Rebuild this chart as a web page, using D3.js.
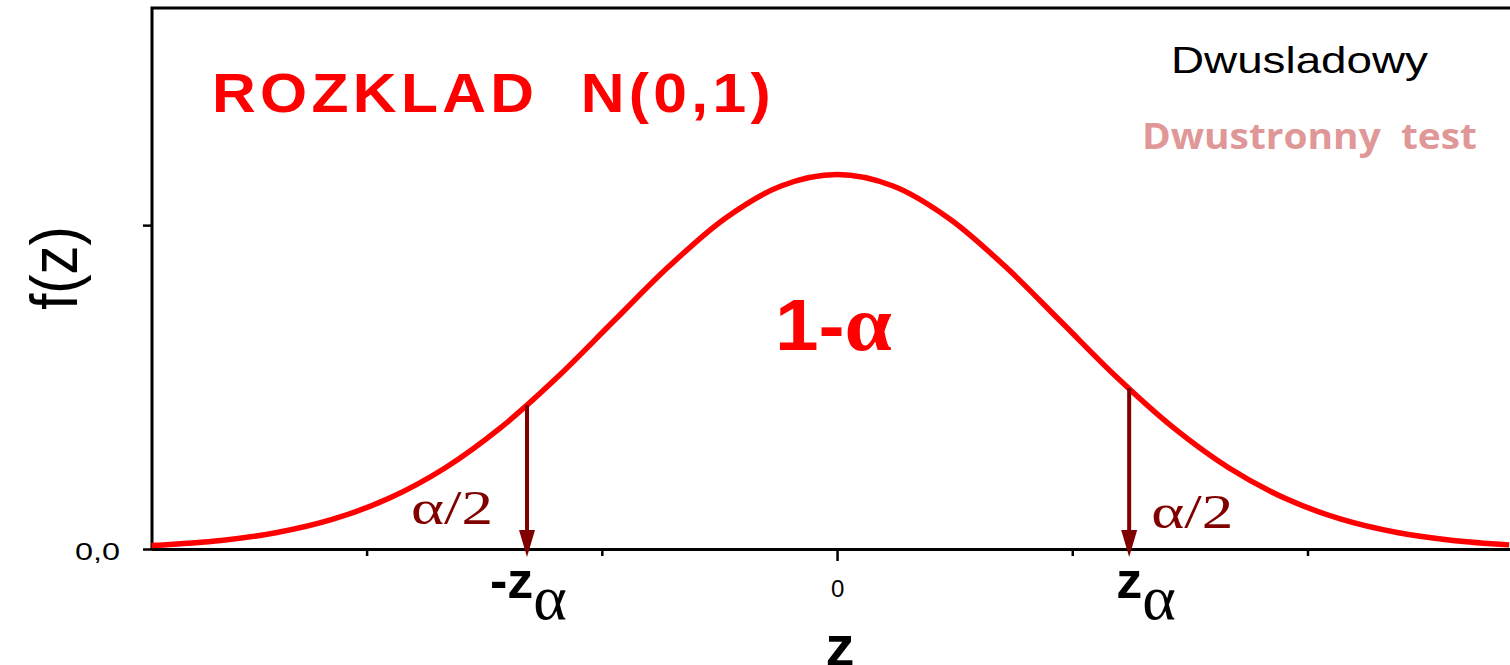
<!DOCTYPE html>
<html>
<head>
<meta charset="utf-8">
<script src="https://cdn.jsdelivr.net/npm/d3@7/dist/d3.min.js"></script>
<style>
  html, body { margin: 0; padding: 0; background: #fff; overflow: hidden; }
  svg { display: block; }
  text { white-space: pre; }
</style>
</head>
<body>
<svg id="chart" width="1510" height="665"></svg>
<script>
// Standard normal density f(z), sampled along z
const zValues = [-3.06, -2.75, -2.5, -2.25, -2.0, -1.75, -1.5, -1.25, -1.0, -0.75, -0.5, -0.25, 0,
                 0.25, 0.5, 0.75, 1.0, 1.25, 1.5, 1.75, 2.0, 2.25, 2.5, 2.75, 3.0];
const density = [0.0037, 0.0091, 0.0175, 0.0317, 0.0540, 0.0863, 0.1295, 0.1826, 0.2420, 0.3011, 0.3521, 0.3867, 0.3989,
                 0.3867, 0.3521, 0.3011, 0.2420, 0.1826, 0.1295, 0.0863, 0.0540, 0.0317, 0.0175, 0.0091, 0.0044];

// Critical values marked with arrows, and the curve height above them
const criticalZ = [-1.384, 1.304];
const criticalF = [0.1534, 0.1715];
const tailLabels = ["\u03B1/2", "\u03B1/2"];
const criticalSigns = ["-", ""];

// Axis ticks
const xTickValues = [-2.1, -1.05, 0, 1.05, 2.1];
const xTickLabels = ["", "", "0", "", ""];
const yTickValues = [0, 0.345];
const yTickLabels = ["0,0", ""];

const titleText = "ROZKLAD  N(0,1)";
const subtitleText = "Dwusladowy";
const testText = "Dwustronny  test";

const svg = d3.select("#chart");
const plotLeft = 152, plotRight = 1510, plotTop = 8, plotBottom = 549;

const x = d3.scaleLinear().domain([-3.058, 3.004]).range([plotLeft, plotRight]);
const y = d3.scaleLinear().domain([0, 0.5763]).range([plotBottom, plotTop]);

const sans = "Liberation Sans, Arial, sans-serif";
const serif = "Liberation Serif, Times New Roman, serif";

// Frame: top border and left spine
svg.append("path")
  .attr("d", `M${plotRight + 10},${plotTop} H${plotLeft} V${plotBottom}`)
  .attr("fill", "none").attr("stroke", "#000").attr("stroke-width", 3);

// Bottom axis
const xAxis = d3.axisBottom(x)
  .tickValues(xTickValues)
  .tickSize(7)
  .tickSizeOuter(0)
  .tickFormat((d, i) => xTickLabels[i]);
const gx = svg.append("g").attr("transform", `translate(0,${plotBottom})`).call(xAxis);
gx.select(".domain").attr("stroke-width", 3).attr("d", `M${plotLeft},0.5H${plotRight}`);
gx.selectAll(".tick line").attr("stroke-width", 2.5)
  .attr("y2", d => d === 0 ? 12 : 7);
gx.selectAll(".tick text")
  .style("font-family", sans).style("font-size", "24px")
  .attr("fill", "#000").attr("y", 40).attr("dy", "0.35em");

// Left axis
const yAxis = d3.axisLeft(y)
  .tickValues(yTickValues)
  .tickSize(9)
  .tickSizeOuter(0)
  .tickFormat((d, i) => yTickLabels[i]);
const gy = svg.append("g").attr("transform", `translate(${plotLeft},0)`).call(yAxis);
gy.select(".domain").remove();
gy.selectAll(".tick line").attr("stroke-width", 2.5);
gy.selectAll(".tick text")
  .style("font-family", sans).style("font-size", "23px")
  .attr("fill", "#000").attr("x", -32).attr("dy", "0.45em")
  .each(function (d, i) { if (yTickLabels[i]) d3.select(this).attr("textLength", 45).attr("lengthAdjust", "spacingAndGlyphs"); });

// Density curve
const line = d3.line()
  .x((d, i) => x(zValues[i]))
  .y(d => y(d))
  .curve(d3.curveCatmullRom);
svg.append("path")
  .datum(density)
  .attr("d", line)
  .attr("fill", "none")
  .attr("stroke", "#ff0000")
  .attr("stroke-width", 5.5);

// Arrows at the critical values
const arrowColor = "#800000";
criticalZ.forEach((z, i) => {
  const cx = x(z);
  const y0 = y(criticalF[i]);
  const tip = y(0) + 8;
  svg.append("line")
    .attr("x1", cx).attr("x2", cx)
    .attr("y1", y0).attr("y2", tip - 20)
    .attr("stroke", arrowColor).attr("stroke-width", 4);
  svg.append("path")
    .attr("d", `M${cx - 8},${tip - 27} L${cx + 8},${tip - 27} L${cx},${tip} Z`)
    .attr("fill", arrowColor);
});

// Tail area labels
const tailPos = [{ dx: -116, y: 524 }, { dx: 22, y: 528 }];
criticalZ.forEach((z, i) => {
  svg.append("text")
    .attr("x", x(z) + tailPos[i].dx).attr("y", tailPos[i].y)
    .attr("font-family", serif)
    .attr("font-size", 48).attr("fill", arrowColor)
    .attr("textLength", 82).attr("lengthAdjust", "spacingAndGlyphs")
    .text(tailLabels[i]);
});

// Critical value labels under the axis
const critPos = [{ dx: -37 }, { dx: -13 }];
criticalZ.forEach((z, i) => {
  const t = svg.append("text")
    .attr("x", x(z) + critPos[i].dx).attr("y", 598)
    .attr("font-family", sans)
    .attr("font-size", 52).attr("font-weight", "bold").attr("fill", "#000");
  t.append("tspan").text(criticalSigns[i] + "z");
  t.append("tspan")
    .attr("font-family", serif)
    .attr("font-weight", "normal")
    .attr("font-size", 64).attr("dy", 21).text("\u03B1");
});

// Axis titles
svg.append("text")
  .attr("x", x(0) + 3).attr("y", 666)
  .attr("text-anchor", "middle")
  .attr("font-family", sans)
  .attr("font-size", 58).attr("font-weight", "bold").attr("fill", "#000")
  .text("z");
svg.append("text")
  .attr("transform", "translate(77,268) scale(1.15,1) rotate(-90)")
  .attr("text-anchor", "middle")
  .attr("font-family", sans)
  .attr("font-size", 58).attr("fill", "#000")
  .text("f(z)");

// Title and annotations
svg.append("text")
  .attr("x", 212).attr("y", 112)
  .attr("font-family", sans)
  .attr("font-size", 56).attr("font-weight", "bold").attr("fill", "#ff0000")
  .attr("letter-spacing", 4)
  .attr("textLength", 563).attr("lengthAdjust", "spacingAndGlyphs")
  .text(titleText);

svg.append("text")
  .attr("x", 1171).attr("y", 73)
  .attr("font-family", sans)
  .attr("font-size", 36).attr("fill", "#000")
  .attr("textLength", 257).attr("lengthAdjust", "spacingAndGlyphs")
  .text(subtitleText);

svg.append("text")
  .attr("x", 1142).attr("y", 149)
  .attr("font-family", "Open Sans, Noto Sans, sans-serif")
  .attr("font-size", 36).attr("font-weight", "bold").attr("fill", "#df9797")
  .attr("textLength", 335).attr("lengthAdjust", "spacingAndGlyphs")
  .text(testText);

const inner = svg.append("text")
  .attr("x", 775).attr("y", 350)
  .attr("font-family", sans)
  .attr("font-size", 72).attr("font-weight", "bold").attr("fill", "#ff0000")
  .attr("textLength", 117).attr("lengthAdjust", "spacingAndGlyphs");
inner.append("tspan").text("1-");
inner.append("tspan")
  .attr("font-family", serif)
  .attr("font-size", 78)
  .text("\u03B1");
</script>
</body>
</html>
